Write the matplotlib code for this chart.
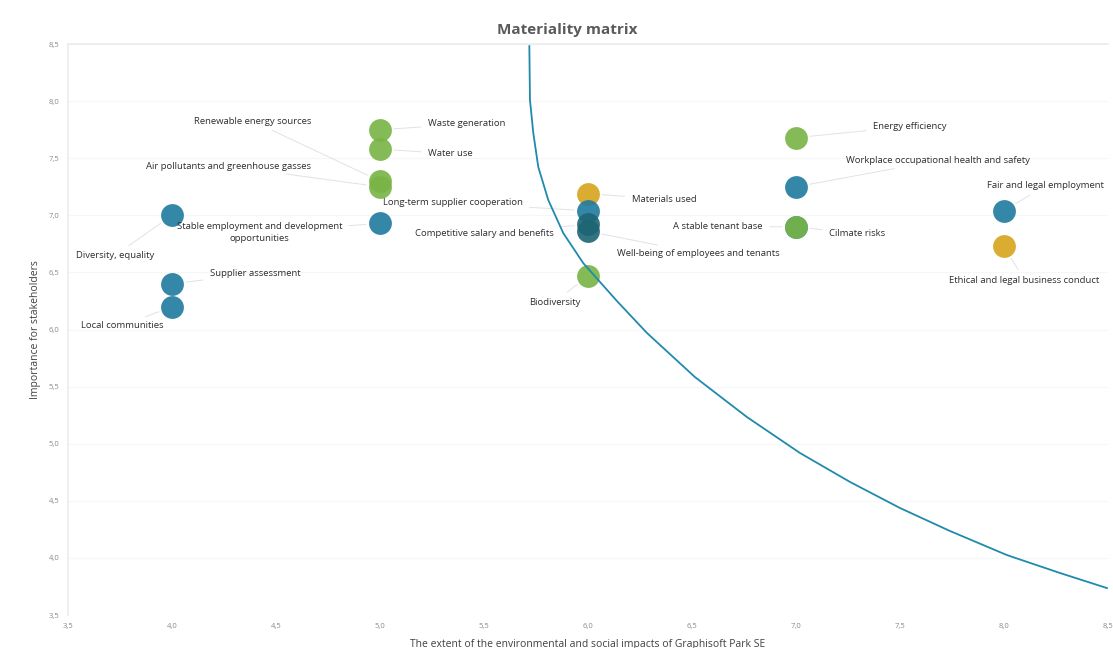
import matplotlib
matplotlib.use("Agg")
import matplotlib.pyplot as plt

plt.rcParams['font.family'] = ['Open Sans', 'DejaVu Sans']

# topics: impact (x), importance for stakeholders (y), group
topics = [
    "Diversity, equality",
    "Supplier assessment",
    "Local communities",
    "Waste generation",
    "Water use",
    "Renewable energy sources",
    "Air pollutants and greenhouse gasses",
    "Stable employment and development\nopportunities",
    "Materials used",
    "Long-term supplier cooperation",
    "Competitive salary and benefits",
    "Well-being of employees and tenants",
    "Biodiversity",
    "Energy efficiency",
    "Workplace occupational health and safety",
    "A stable tenant base",
    "Cilmate risks",
    "Fair and legal employment",
    "Ethical and legal business conduct",
]
impact = [4.0, 4.0, 4.0, 5.0, 5.0, 5.0, 5.0, 5.0, 6.0, 6.0, 6.0, 6.0, 6.0,
          7.0, 7.0, 7.0, 7.0, 8.0, 8.0]
importance = [7.0, 6.4, 6.2, 7.75, 7.58, 7.3, 7.25, 6.93, 7.19, 7.04, 6.92,
              6.86, 6.47, 7.68, 7.25, 6.9, 6.9, 7.04, 6.73]
group = ["social", "social", "social", "env", "env", "env", "env", "social",
         "gov", "social", "staff", "staff", "env", "env", "social",
         "social", "env", "social", "gov"]

# threshold curve, points
curve_x = [5.718, 5.721, 5.737, 5.761, 5.809, 5.881, 5.977, 6.058, 6.139,
           6.284, 6.514, 6.764, 7.019, 7.260, 7.500, 7.740, 8.014, 8.269,
           8.495]
curve_y = [8.482, 8.010, 7.721, 7.423, 7.134, 6.845, 6.582, 6.416, 6.250,
           5.969, 5.584, 5.234, 4.919, 4.665, 4.437, 4.236, 4.025, 3.868,
           3.736]

ticks = [3.5, 4.0, 4.5, 5.0, 5.5, 6.0, 6.5, 7.0, 7.5, 8.0, 8.5]

colors = {"social": "#1f7a9e", "staff": "#1d6574", "env": "#78b445",
          "gov": "#d8a31c"}

# label anchor (x, y, horizontal alignment) for each topic
label_pos = [
    (3.915, 6.65, "right"),
    (4.40, 6.49, "center"),
    (3.96, 6.035, "right"),
    (5.23, 7.80, "left"),
    (5.23, 7.54, "left"),
    (4.67, 7.825, "right"),
    (4.67, 7.43, "right"),
    (4.42, 6.85, "center"),
    (6.21, 7.14, "left"),
    (5.35, 7.11, "center"),
    (5.50, 6.84, "center"),
    (6.14, 6.67, "left"),
    (5.84, 6.24, "center"),
    (7.37, 7.78, "left"),
    (7.24, 7.48, "left"),
    (6.84, 6.90, "right"),
    (7.16, 6.84, "left"),
    (8.48, 7.26, "right"),
    (8.46, 6.43, "right"),
]

fig = plt.figure(figsize=(11.13, 6.48), dpi=100)
ax = fig.add_axes([0.0611, 0.0509, 0.9344, 0.8811])

for i, name in enumerate(topics):
    ax.scatter(impact[i], importance[i], s=270, color=colors[group[i]],
               alpha=0.9, linewidths=0, zorder=3)
    lx, ly, ha = label_pos[i]
    ax.annotate(name, xy=(impact[i], importance[i]), xytext=(lx, ly),
                textcoords='data', ha=ha, va='center', fontsize=6.8,
                color='#2e2e2e', linespacing=1.3,
                arrowprops=dict(arrowstyle='-', color='#e2e2e2', lw=0.7,
                                shrinkA=3, shrinkB=10), zorder=4)

ax.plot(curve_x, curve_y, color='#1f8aab', lw=1.3, zorder=5,
        solid_joinstyle='round')

ax.set_xlim(3.5, 8.5)
ax.set_ylim(3.5, 8.5)
ax.set_xticks(ticks)
ax.set_yticks(ticks)
ax.set_xticklabels([f"{t:.1f}".replace(".", ",") for t in ticks])
ax.set_yticklabels([f"{t:.1f}".replace(".", ",") for t in ticks])
ax.tick_params(length=0, labelsize=5.5, labelcolor='#8a8a8a', pad=6)
ax.grid(axis='y', color='#f6f6f6', lw=0.8)
ax.set_axisbelow(True)
for side in ['right', 'bottom']:
    ax.spines[side].set_visible(False)
for side in ['left', 'top']:
    ax.spines[side].set_color('#ececec')
    ax.spines[side].set_linewidth(1.2)

ax.set_xlabel("The extent of the environmental and social impacts of Graphisoft Park SE",
              fontsize=7.5, color='#404040', labelpad=6)
ax.set_ylabel("Importance for stakeholders", fontsize=7.5, color='#404040',
              labelpad=10)
ax.yaxis.set_label_coords(-0.026, 0.5)

fig.text(0.5094, 0.954, "Materiality matrix", ha='center', va='center',
         fontsize=11, fontweight='bold', color='#5a5a5a')

fig.savefig("out.png", dpi=100, facecolor='white')
